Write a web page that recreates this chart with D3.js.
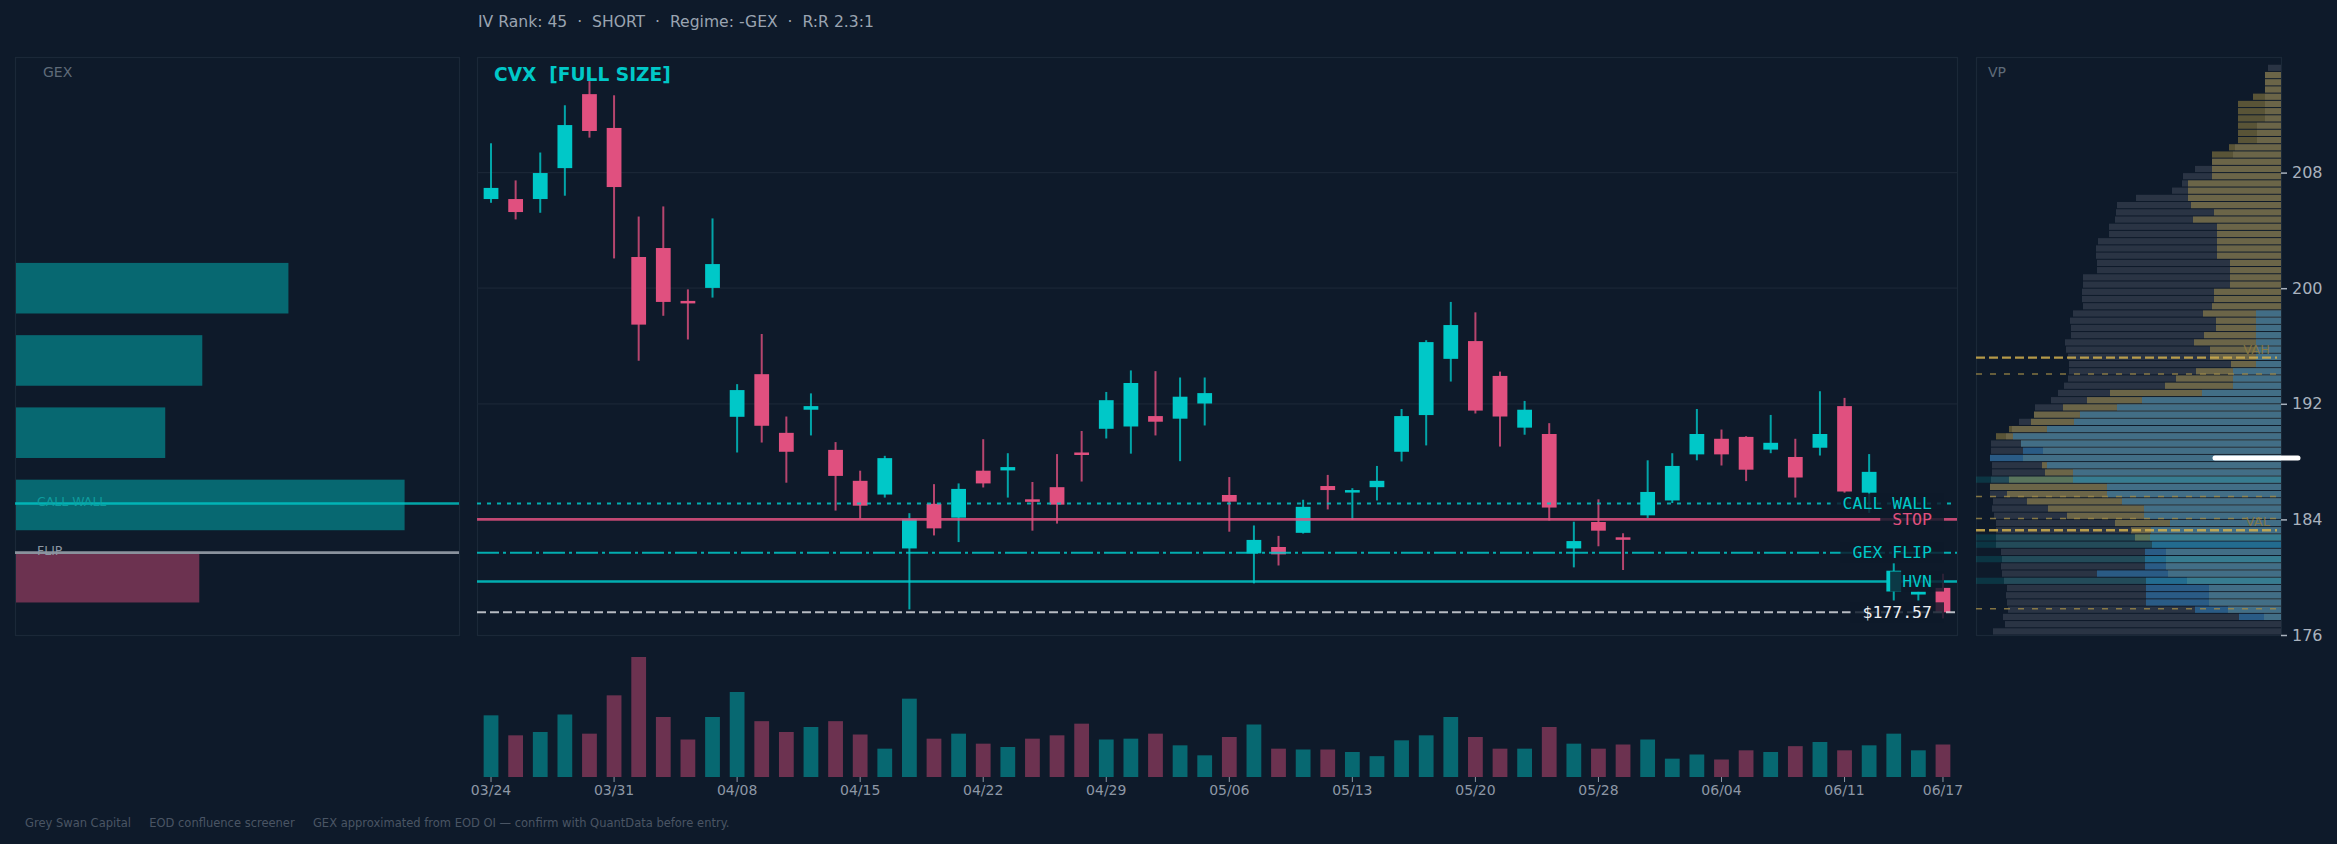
<!DOCTYPE html>
<html>
<head>
<meta charset="utf-8">
<script src="https://cdn.jsdelivr.net/npm/d3@7"></script>
<style>
  html, body { margin: 0; padding: 0; background: #0e1a2a; }
  svg { display: block; }
  text { font-family: "DejaVu Sans", sans-serif; }
  .mono { font-family: "DejaVu Sans Mono", monospace; }
</style>
</head>
<body>
<svg id="chart" width="2337" height="844"></svg>
<script>
// ---------------- data ----------------
const dates = ['03/24','03/25','03/26','03/27','03/28','03/31','04/01','04/02','04/03','04/07',
  '04/08','04/09','04/10','04/11','04/14','04/15','04/16','04/17','04/18','04/21',
  '04/22','04/23','04/24','04/25','04/28','04/29','04/30','05/01','05/02','05/05',
  '05/06','05/07','05/08','05/09','05/12','05/13','05/14','05/15','05/16','05/19',
  '05/20','05/21','05/22','05/23','05/27','05/28','05/29','05/30','06/02','06/03',
  '06/04','06/05','06/06','06/09','06/10','06/11','06/12','06/13','06/16','06/17'];

const open  = [206.17,206.17,206.17,208.31,213.43,211.09,202.16,202.78,199.12,200.02,
  191.10,194.05,189.99,191.59,188.81,186.67,185.72,181.99,185.08,184.12,
  187.37,187.39,185.39,186.23,188.63,190.27,190.43,191.15,190.97,192.02,
  185.69,181.65,182.09,183.07,186.31,185.92,186.23,188.68,191.22,195.11,
  196.34,193.93,190.35,189.91,181.99,183.82,182.76,184.28,185.31,188.50,
  189.58,189.71,188.83,188.32,188.96,191.84,185.85,179.01,178.80,179.26];
const high  = [210.03,207.46,209.39,212.66,214.33,213.35,204.96,205.66,199.92,204.83,
  193.36,196.83,191.12,192.72,189.35,187.37,188.40,184.43,186.44,186.49,
  189.55,188.58,186.59,188.52,190.12,192.82,194.31,194.26,193.82,193.82,
  186.93,183.58,182.86,185.36,187.08,186.16,187.70,191.64,196.40,199.05,
  198.33,194.23,192.20,190.66,183.84,185.39,183.04,188.09,188.58,191.64,
  190.22,189.76,191.23,189.58,192.87,192.41,188.52,180.96,179.00,180.24];
const low   = [205.91,204.76,205.22,206.40,210.42,202.06,194.98,198.09,196.45,199.35,
  188.63,189.32,186.54,189.81,184.61,184.05,185.51,177.77,182.89,182.43,
  186.21,185.51,183.22,183.71,186.62,189.60,188.55,189.81,188.03,190.50,
  183.15,179.57,180.81,183.02,184.69,183.97,185.31,188.01,189.12,193.54,
  191.33,189.04,189.86,183.92,180.68,182.14,180.50,184.10,185.13,188.09,
  187.73,186.65,188.58,185.51,188.42,185.85,184.45,178.39,178.39,177.15];
const close = [206.94,205.27,207.97,211.29,210.88,207.00,197.48,199.05,199.00,201.67,
  192.95,190.48,188.68,191.84,187.01,184.95,188.24,184.02,183.38,186.11,
  186.49,187.62,185.23,185.02,188.47,192.25,193.44,190.76,192.49,192.74,
  185.23,182.58,181.58,184.87,186.03,186.03,186.67,191.15,196.27,197.45,
  191.53,191.12,191.59,184.82,182.50,183.22,182.61,185.90,187.70,189.91,
  188.50,187.44,189.30,186.90,189.91,185.93,187.29,180.45,179.00,177.57];
// volume, millions of shares
const volume = [7.4,5.0,5.4,7.5,5.2,9.8,14.4,7.2,4.5,7.2,
  10.2,6.7,5.4,6.0,6.7,5.1,3.4,9.4,4.6,5.2,
  4.0,3.6,4.6,5.0,6.4,4.5,4.6,5.2,3.8,2.6,
  4.8,6.3,3.4,3.3,3.3,3.0,2.5,4.4,5.0,7.2,
  4.8,3.4,3.4,6.0,4.0,3.4,3.9,4.5,2.2,2.7,
  2.1,3.2,3.0,3.7,4.2,3.2,3.8,5.2,3.2,3.9];

// gamma exposure by strike
const gexStrikes = [200, 195, 190, 185, 180];
const gexValues  = [1.36, 0.93, 0.745, 1.94, -0.915];

// key levels
const callWall = 185.1;
const stopPrice = 184.0;
const gexFlip = 181.7;
const hvnPrice = 179.7;
const lastPrice = 177.57;

// volume profile, $0.5 bins from 176
const vpStart = 176, vpStep = 0.5;
const vpTotal = [288,276,278,273,274,275,274,277,279,280, 279,280,285,285,285,285,287,289,288,291,
  291,290,289,289,291,290,290,275,269,262, 247,246,230,223,217,213,212,212,213,215,
  216,210,210,211,208,198,199,199,198,198, 184,184,185,185,183,172,172,166,165,164,
  145,109,99,98,86,69,48,46,24,24, 24,16,16,16,16,16,16,16,13,0];
const vpGold = [0,0,17,53,72,72,72,94,113,115, 115,115,0,146,150,166,214,233,254,274,
  291,272,236,239,258,238,260,285,272,250, 247,218,194,171,116,105,85,50,71,71,
  87,77,65,65,78,69,67,67,51,51, 51,51,64,64,64,64,64,88,67,90,
  93,93,93,69,69,69,69,52,43,43, 43,43,43,43,28,16,16,16,0,0];
const vpBlue = [0,0,42,86,135,135,135,135,184,136, 136,136,129,131,130,111,137,137,159,174,
  174,208,208,234,291,258,260,268,234,207, 201,164,139,79,48,48,48,25,25,25,
  25,25,25,25,25,0,0,0,0,0, 0,0,0,0,0,0,0,0,0,0,
  0,0,0,0,0,0,0,0,0,0, 0,0,0,0,0,0,0,0,0,0];
const hvnBins = [179.5, 181.0, 182.0, 182.5, 186.5];
const vahPrice = 195.2, valPrice = 183.25;
const vpRefLevels = [194.07, 185.58, 184.07, 177.82];
const pocPrice = 188.25;

const priceTicks = [176, 184, 192, 200, 208];
const dateTickIdx = [0,5,10,15,20,25,30,35,40,45,50,55,59];

const headerText = 'IV Rank: 45  \u00b7  SHORT  \u00b7  Regime: -GEX  \u00b7  R:R 2.3:1';
const footerText = 'Grey Swan Capital     EOD confluence screener     GEX approximated from EOD OI \u2014 confirm with QuantData before entry.';

// ---------------- layout ----------------
const W = 2337, H = 844;
const BG = '#0e1a2a', FRAME = '#1b2838', GRID = '#1a2636';
const UP = '#00c8c8', DOWN = '#e0507f';
const gexBox = {x0: 15, x1: 459, y0: 57, y1: 635};
const mainBox = {x0: 477, x1: 1957, y0: 57, y1: 635};
const vpBox = {x0: 1976, x1: 2281, y0: 57, y1: 635};
const volBase = 777, volTop = 657;

const svg = d3.select('#chart');
svg.append('rect').attr('width', W).attr('height', H).attr('fill', BG);

const y = d3.scaleLinear().domain([176, 216]).range([mainBox.y1, mainBox.y0]);
const x = d3.scaleBand().domain(d3.range(dates.length))
  .range([mainBox.x0, mainBox.x1]).paddingInner(0.4).paddingOuter(0.27);
const bw = x.bandwidth();
const isUp = i => close[i] >= open[i];

// panel frames
[gexBox, mainBox, vpBox].forEach(b => {
  svg.append('rect')
    .attr('x', b.x0 + 0.5).attr('y', b.y0 + 0.5)
    .attr('width', b.x1 - b.x0).attr('height', b.y1 - b.y0)
    .attr('fill', 'none').attr('stroke', FRAME).attr('stroke-width', 1.2);
});

// header
svg.append('text').attr('x', 478).attr('y', 27)
  .attr('fill', '#9aa4b1').style('font-size', '15.6px')
  .attr('xml:space', 'preserve').text(headerText);

// ---------------- GEX panel ----------------
const gx = d3.scaleLinear()
  .domain([0, d3.max(gexValues, Math.abs) * 1.14])
  .range([gexBox.x0 + 1, gexBox.x1]);
const half = 0.35 * 5; // bar half height in $

svg.append('g').selectAll('rect').data(gexStrikes).join('rect')
  .attr('x', gx(0))
  .attr('y', d => y(d + half))
  .attr('width', (d, i) => gx(Math.abs(gexValues[i])) - gx(0))
  .attr('height', d => y(d - half) - y(d + half))
  .attr('fill', (d, i) => gexValues[i] >= 0 ? UP : DOWN)
  .attr('opacity', 0.45);

svg.append('line')
  .attr('x1', gexBox.x0).attr('x2', gexBox.x1)
  .attr('y1', y(callWall)).attr('y2', y(callWall))
  .attr('stroke', UP).attr('stroke-width', 2.6).attr('opacity', 0.8);
svg.append('line')
  .attr('x1', gexBox.x0).attr('x2', gexBox.x1)
  .attr('y1', y(gexFlip)).attr('y2', y(gexFlip))
  .attr('stroke', '#8a929d').attr('stroke-width', 2.6);

svg.append('text').attr('x', 37).attr('y', y(callWall) + 2)
  .attr('fill', '#10a5a5').attr('opacity', 0.85).style('font-size', '12.5px').text('CALL WALL');
svg.append('text').attr('x', 37).attr('y', y(gexFlip) + 2)
  .attr('fill', '#8d96a2').style('font-size', '12.5px').text('FLIP');
svg.append('text').attr('x', 43).attr('y', 77)
  .attr('fill', '#5f6b79').style('font-size', '14px').text('GEX');

// ---------------- main price panel ----------------
svg.append('g').selectAll('line').data(priceTicks.slice(1)).join('line')
  .attr('x1', mainBox.x0).attr('x2', mainBox.x1)
  .attr('y1', d => y(d)).attr('y2', d => y(d))
  .attr('stroke', GRID).attr('stroke-width', 1.3);

svg.append('text').attr('x', 494).attr('y', 81)
  .attr('fill', UP).style('font-size', '18.6px').style('font-weight', 'bold')
  .attr('xml:space', 'preserve').text('CVX  [FULL SIZE]');

const idx = d3.range(dates.length);
const candles = svg.append('g');
candles.selectAll('line').data(idx).join('line')
  .attr('x1', i => x(i) + bw / 2).attr('x2', i => x(i) + bw / 2)
  .attr('y1', i => y(high[i])).attr('y2', i => y(low[i]))
  .attr('stroke', i => isUp(i) ? UP : DOWN)
  .attr('stroke-width', 2).attr('opacity', 0.8);
candles.selectAll('rect').data(idx).join('rect')
  .attr('x', i => x(i)).attr('width', bw)
  .attr('y', i => y(Math.max(open[i], close[i])))
  .attr('height', i => Math.max(2.5, Math.abs(y(open[i]) - y(close[i]))))
  .attr('fill', i => isUp(i) ? UP : DOWN);

// horizontal levels
const levels = [
  {label: 'CALL WALL', price: callWall, color: UP, dash: '4,6', w: 2, text: UP},
  {label: 'STOP', price: stopPrice, color: DOWN, dash: null, w: 2.6, text: DOWN},
  {label: 'GEX FLIP', price: gexFlip, color: UP, dash: '22,4,3,4', w: 2, text: UP},
  {label: 'HVN', price: hvnPrice, color: UP, dash: null, w: 2.6, text: UP},
  {label: '$' + lastPrice.toFixed(2), price: lastPrice, color: '#d4d8dd', dash: '9,4', w: 2, text: '#eceff2'}
];
const lv = svg.append('g');
levels.forEach(l => {
  lv.append('line')
    .attr('x1', mainBox.x0).attr('x2', mainBox.x1)
    .attr('y1', y(l.price)).attr('y2', y(l.price))
    .attr('stroke', l.color).attr('stroke-width', l.w)
    .attr('stroke-dasharray', l.dash).attr('opacity', 0.85);
});
const labelX = mainBox.x1 - 25;
levels.forEach(l => {
  const box = lv.append('rect');
  const t = lv.append('text').attr('class', 'mono')
    .attr('x', labelX).attr('y', y(l.price))
    .attr('text-anchor', 'end').attr('dominant-baseline', 'central')
    .attr('fill', l.text).style('font-size', '16.5px')
    .text(l.label);
  const len = t.node().getComputedTextLength();
  box.attr('x', labelX - len - 12).attr('width', len + 24)
    .attr('y', y(l.price) - 10).attr('height', 20)
    .attr('fill', BG).attr('opacity', 0.82);
});

// ---------------- volume ----------------
const vy = d3.scaleLinear().domain([0, d3.max(volume)]).range([volBase, volTop]);
svg.append('g').selectAll('rect').data(idx).join('rect')
  .attr('x', i => x(i)).attr('width', bw)
  .attr('y', i => vy(volume[i]))
  .attr('height', i => volBase - vy(volume[i]))
  .attr('fill', i => isUp(i) ? UP : DOWN)
  .attr('opacity', 0.45);

const xAxis = svg.append('g')
  .attr('transform', `translate(0,${volBase})`)
  .call(d3.axisBottom(x).tickValues(dateTickIdx).tickFormat(i => dates[i]).tickSize(5).tickPadding(3));
xAxis.select('.domain').remove();
xAxis.selectAll('line').attr('stroke', '#8d97a5');
xAxis.selectAll('text').attr('fill', '#8d97a5')
  .style('font-size', '14px').style('font-family', '"DejaVu Sans", sans-serif');

// ---------------- volume profile ----------------
const vpMax = d3.max(vpTotal.concat(vpGold, vpBlue));
const vx = d3.scaleLinear().domain([0, vpMax * 1.048]).range([0, vpBox.x1 - vpBox.x0]);
const bins = d3.range(vpTotal.length).map(k => vpStart + k * vpStep);

svg.append('clipPath').attr('id', 'vpclip').append('rect')
  .attr('x', vpBox.x0).attr('y', vpBox.y0)
  .attr('width', vpBox.x1 - vpBox.x0).attr('height', vpBox.y1 - vpBox.y0);
const vp = svg.append('g').attr('clip-path', 'url(#vpclip)');

function vpLayer(vals, fill, op) {
  vp.append('g').selectAll('rect').data(bins).join('rect')
    .attr('x', (p, k) => vpBox.x1 - vx(vals[k]))
    .attr('width', (p, k) => vx(vals[k]))
    .attr('y', p => y(p + vpStep) + 0.5)
    .attr('height', p => y(p) - y(p + vpStep) - 1)
    .attr('fill', fill).attr('opacity', op);
}
vpLayer(vpTotal, '#2a3444', 1);
vpLayer(vpGold, '#e0bc50', 0.36);
vpLayer(vpBlue, '#2a74ad', 0.62);

// high volume nodes
vp.append('g').selectAll('rect').data(hvnBins).join('rect')
  .attr('x', vpBox.x0).attr('width', vpBox.x1 - vpBox.x0)
  .attr('y', p => y(p + vpStep) + 0.5)
  .attr('height', p => y(p) - y(p + vpStep) - 1)
  .attr('fill', UP).attr('opacity', 0.16);

vp.append('g').selectAll('line').data(vpRefLevels).join('line')
  .attr('x1', vpBox.x0).attr('x2', vpBox.x1 - 4)
  .attr('y1', d => y(d)).attr('y2', d => y(d))
  .attr('stroke', '#a08a48').attr('stroke-width', 1.5)
  .attr('stroke-dasharray', '6,8').attr('opacity', 0.8);
vp.append('g').selectAll('line').data([vahPrice, valPrice]).join('line')
  .attr('x1', vpBox.x0).attr('x2', vpBox.x1 - 4)
  .attr('y1', d => y(d)).attr('y2', d => y(d))
  .attr('stroke', '#d2b04e').attr('stroke-width', 2.3)
  .attr('stroke-dasharray', '9,4').attr('opacity', 0.85);

[['VAH', vahPrice], ['VAL', valPrice]].forEach(d => {
  vp.append('text').attr('x', vpBox.x1 - 11).attr('y', y(d[1]) - 4)
    .attr('text-anchor', 'end').attr('fill', '#8d7b42').attr('opacity', 0.85)
    .style('font-size', '13px').text(d[0]);
});

svg.append('text').attr('x', 1988).attr('y', 77)
  .attr('fill', '#5f6b79').style('font-size', '14px').text('VP');

// POC marker
svg.append('line')
  .attr('x1', vpBox.x1 - 66).attr('x2', vpBox.x1 + 17)
  .attr('y1', y(pocPrice)).attr('y2', y(pocPrice))
  .attr('stroke', '#ffffff').attr('stroke-width', 5).attr('stroke-linecap', 'round');

const yAxis = svg.append('g')
  .attr('transform', `translate(${vpBox.x1},0)`)
  .call(d3.axisRight(y).tickValues(priceTicks).tickSize(6).tickPadding(5));
yAxis.select('.domain').remove();
yAxis.selectAll('line').attr('stroke', '#a9b2be').attr('stroke-width', 1.5);
yAxis.selectAll('text').attr('fill', '#a9b2be')
  .style('font-size', '16px').style('font-family', '"DejaVu Sans", sans-serif');

// footer
svg.append('text').attr('x', 25).attr('y', 827)
  .attr('fill', '#4a5564').style('font-size', '11.5px')
  .attr('xml:space', 'preserve').text(footerText);
</script>
</body>
</html>
